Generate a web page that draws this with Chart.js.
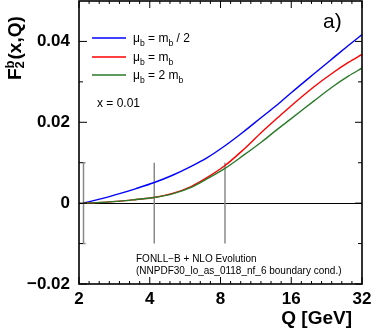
<!DOCTYPE html>
<html lang="en">
<head>
    <meta charset="UTF-8">
    <title>F2b(x,Q) vs Q</title>
    <script src="https://cdn.jsdelivr.net/npm/chart.js"></script>
    <style>
        body { margin: 0; background: #fff; }
        #curveChart { display: block; }
    </style>
</head>
<body>
    <canvas id="curveChart" width="374" height="329"></canvas>

    <script>
        // Q grid (GeV) and F2^b values
        const qValues = [2.09, 2.5, 3, 3.5, 4.18, 5, 6, 7, 8.36, 10, 12, 14, 16, 20, 24, 28, 32];
        const f2Half  = [0, 0.0011, 0.0024, 0.0036, 0.0051, 0.0069, 0.0091, 0.0112, 0.0142, 0.0176, 0.0213, 0.0244, 0.0273, 0.0320, 0.0358, 0.0390, 0.0417];
        const f2One   = [0, 0.0002, 0.0005, 0.0009, 0.0014, 0.0024, 0.0041, 0.0063, 0.0093, 0.0132, 0.0176, 0.0211, 0.0241, 0.0288, 0.0322, 0.0348, 0.0368];
        const f2Two   = [0, 0.0002, 0.0005, 0.0009, 0.0014, 0.0023, 0.0039, 0.0060, 0.0086, 0.0118, 0.0152, 0.0183, 0.0209, 0.0253, 0.0288, 0.0314, 0.0334];

        const legendLabels = ['μ_b = m_b / 2', 'μ_b = m_b', 'μ_b = 2 m_b'];
        const seriesColors = ['#0000ff', '#ff0000', '#2a7a2a'];

        // scale markers at m_b/2, m_b, 2 m_b
        const markerQ = [2.09, 4.18, 8.36];
        const markerLow = -0.01, markerHigh = 0.01;

        const xTicks = [2, 4, 8, 16, 32];
        const yTicks = [-0.02, 0, 0.02, 0.04];
        const yMinor = [-0.01, 0.01, 0.03];

        const toPoints = (ys) => ys.map((y, i) => ({ x: qValues[i], y: y }));

        const FONT = '"Liberation Sans", Arial, Helvetica, sans-serif';

        // draw "a_b" style text: characters after '_' become subscripts
        function drawRich(ctx, str, x, y, size) {
            const parts = str.split(/_(\w)/);
            parts.forEach((p, i) => {
                const sub = i % 2 === 1;
                ctx.font = (sub ? size * 0.72 : size) + 'px ' + FONT;
                ctx.fillText(p, x, sub ? y + size * 0.3 : y);
                x += ctx.measureText(p).width;
            });
        }

        const decorations = {
            id: 'decorations',
            afterDraw(chart) {
                const { ctx, chartArea: a, scales: { x, y } } = chart;
                const line = (x1, y1, x2, y2) => {
                    ctx.beginPath(); ctx.moveTo(x1, y1); ctx.lineTo(x2, y2); ctx.stroke();
                };
                ctx.save();
                ctx.strokeStyle = '#000';
                ctx.lineWidth = 1;

                // inward ticks, y
                yTicks.forEach(v => {
                    const py = y.getPixelForValue(v);
                    line(a.left, py, a.left + 8, py);
                    line(a.right, py, a.right - 7, py);
                });
                yMinor.forEach(v => {
                    const py = y.getPixelForValue(v);
                    line(a.left, py, a.left + 4, py);
                    line(a.right, py, a.right - 4, py);
                });
                // inward ticks, x (7 minor steps per octave)
                for (let o = 0; o < 4; o++) {
                    for (let k = 1; k < 7; k++) {
                        const px = x.getPixelForValue(xTicks[o] * Math.pow(2, k / 7));
                        line(px, a.bottom, px, a.bottom - 3);
                        line(px, a.top, px, a.top + 3);
                    }
                }
                xTicks.forEach(v => {
                    const px = x.getPixelForValue(v);
                    line(px, a.bottom, px, a.bottom - 7);
                    line(px, a.top, px, a.top + 7);
                });

                // frame
                ctx.lineWidth = 1.6;
                ctx.strokeRect(a.left, a.top, a.right - a.left, a.bottom - a.top);

                ctx.fillStyle = '#000';
                ctx.textBaseline = 'alphabetic';
                ctx.textAlign = 'left';

                // legend
                const rows = [38, 57, 75];
                rows.forEach((ry, i) => {
                    ctx.strokeStyle = seriesColors[i];
                    ctx.lineWidth = 1.4;
                    line(92, ry, 126, ry);
                    drawRich(ctx, legendLabels[i], 133, ry + 4, 12);
                });

                ctx.font = '12px ' + FONT;
                ctx.fillText('x = 0.01', 97, 107);

                ctx.font = '21px ' + FONT;
                ctx.fillText('a)', 323, 28);

                ctx.font = '10px ' + FONT;
                ctx.fillText('FONLL\u2212B + NLO Evolution', 136, 262);
                ctx.fillText('(NNPDF30_lo_as_0118_nf_6 boundary cond.)', 136, 273.5);

                // x title
                ctx.font = 'bold 19px ' + FONT;
                ctx.textAlign = 'right';
                ctx.fillText('Q [GeV]', 352, 324);

                // y title F_2^b(x,Q), rotated
                ctx.save();
                ctx.translate(21, 80);
                ctx.rotate(-Math.PI / 2);
                ctx.textAlign = 'left';
                ctx.font = 'bold 19px ' + FONT;
                ctx.fillText('F', 0, 0);
                let tx = ctx.measureText('F').width;
                ctx.font = 'bold 13px ' + FONT;
                ctx.fillText('b', tx, -7);
                ctx.fillText('2', tx, 3);
                tx += ctx.measureText('b').width + 1;
                ctx.font = 'bold 19px ' + FONT;
                ctx.fillText('(x,Q)', tx, 0);
                ctx.restore();

                ctx.restore();
            }
        };

        const markerSets = markerQ.map((q, i) => ({
            data: i === 0
                ? [{ x: q * 1.02, y: markerHigh }, { x: q, y: markerHigh }, { x: q, y: markerLow }, { x: q * 1.02, y: markerLow }]
                : [{ x: q, y: markerLow }, { x: q, y: markerHigh }],
            borderColor: '#8a8a8a',
            borderWidth: 1.5,
            pointRadius: 0,
            order: 10
        }));

        const curveSets = [f2Half, f2One, f2Two].map((ys, i) => ({
            label: legendLabels[i],
            data: toPoints(ys),
            borderColor: seriesColors[i],
            borderWidth: 1.4,
            pointRadius: 0,
            cubicInterpolationMode: 'monotone',
            order: 3 - i
        }));

        // drop the automatic label padding so the plot frame lands where the reference has it
        const noPad = (s) => { s.paddingTop = 0; s.paddingBottom = 0; s.paddingLeft = 0; s.paddingRight = 0; };

        new Chart(document.getElementById('curveChart'), {
            type: 'line',
            data: { datasets: [...curveSets, ...markerSets] },
            plugins: [decorations],
            options: {
                responsive: false,
                animation: false,
                devicePixelRatio: 1,
                layout: { padding: { left: 0, right: 12, top: 1, bottom: 0 } },
                plugins: { legend: { display: false }, tooltip: { enabled: false } },
                scales: {
                    x: {
                        type: 'logarithmic',
                        min: 2, max: 32,
                        afterBuildTicks: (s) => { s.ticks = xTicks.map(v => ({ value: v })); },
                        afterFit: (s) => { s.height = 45; noPad(s); },
                        grid: { drawOnChartArea: false, drawTicks: false },
                        border: { display: false },
                        ticks: {
                            autoSkip: false, maxRotation: 0, padding: 5,
                            color: '#000',
                            font: { family: FONT, size: 17, weight: 'bold' },
                            callback: (v) => String(v)
                        }
                    },
                    y: {
                        type: 'linear',
                        min: -0.02, max: 0.05,
                        afterBuildTicks: (s) => { s.ticks = yTicks.map(v => ({ value: v })); },
                        afterFit: (s) => { s.width = 79; noPad(s); },
                        grid: {
                            drawTicks: false,
                            lineWidth: 1,
                            color: (c) => (c.tick && c.tick.value === 0 ? '#000' : 'rgba(0,0,0,0)')
                        },
                        border: { display: false },
                        ticks: {
                            padding: 9,
                            color: '#000',
                            font: { family: FONT, size: 17, weight: 'bold' },
                            callback: (v) => v === 0 ? '0' : (v < 0 ? '\u2212' : '') + Math.abs(v).toFixed(2)
                        }
                    }
                }
            }
        });
    </script>
</body>
</html>
